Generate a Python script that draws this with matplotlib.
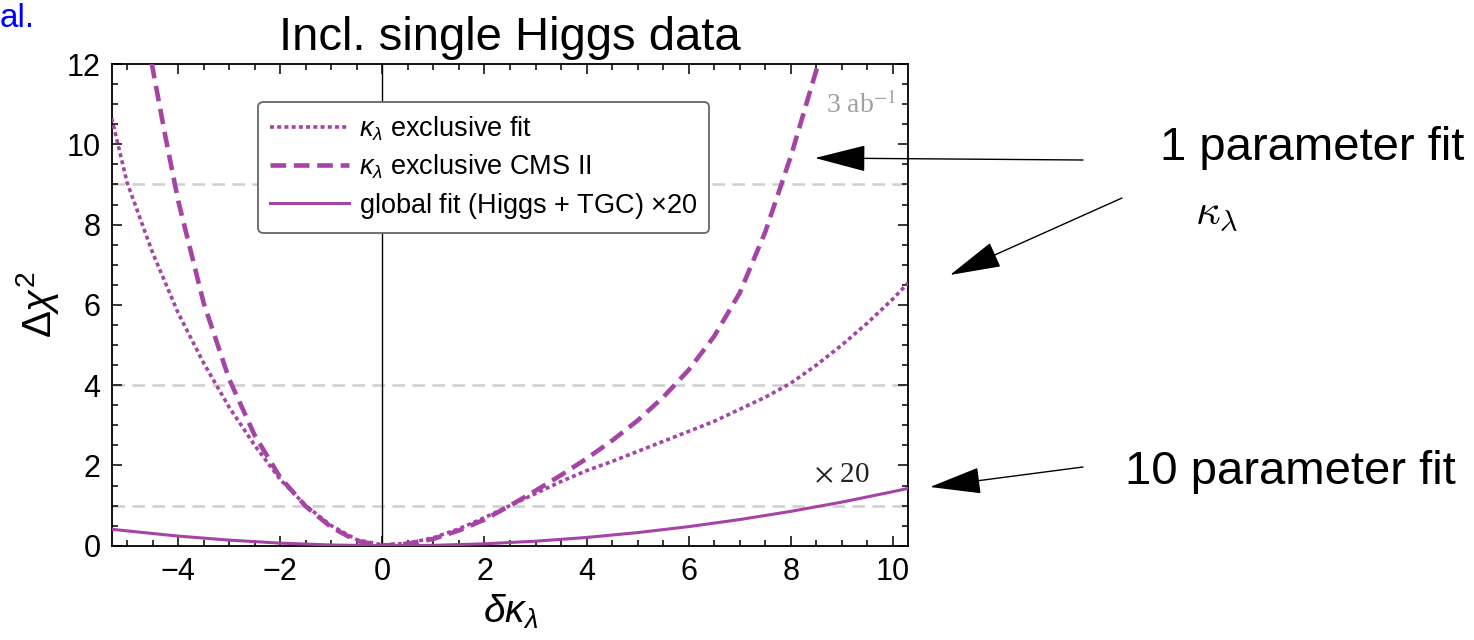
import matplotlib
matplotlib.use("Agg")
import matplotlib.pyplot as plt
from matplotlib.patches import FancyArrowPatch
from matplotlib.ticker import MultipleLocator

# --- chi-square scans in delta kappa_lambda ---
excl_x = [-5.3, -5.0, -4.5, -4.0, -3.5, -3.0, -2.5, -2.0, -1.5, -1.0, -0.5, 0.0,
          0.5, 1.0, 1.5, 2.0, 2.5, 3.0, 3.5, 4.0, 4.5, 5.0, 5.5, 6.0, 6.5, 7.0,
          7.5, 8.0, 8.5, 9.0, 9.5, 10.0, 10.3]
excl_fit = [10.65, 9.05, 7.3, 5.8, 4.55, 3.45, 2.5, 1.65, 1.0, 0.5, 0.15, 0.02,
            0.06, 0.2, 0.42, 0.7, 1.0, 1.3, 1.6, 1.87, 2.1, 2.35, 2.6, 2.85, 3.1, 3.4,
            3.7, 4.05, 4.5, 5.0, 5.55, 6.15, 6.55]

cms_x = [-4.6, -4.5, -4.25, -4.0, -3.5, -3.0, -2.5, -2.0, -1.5, -1.0, -0.5, 0.0,
         0.5, 1.0, 1.5, 2.0, 2.5, 3.0, 3.5, 4.0, 4.5, 5.0, 5.5, 6.0, 6.5, 7.0,
         7.5, 8.0, 8.5, 8.7]
cms_excl = [12.6, 11.9, 10.2, 8.6, 6.05, 4.15, 2.75, 1.7, 0.98, 0.46, 0.12, 0.0,
            0.05, 0.17, 0.38, 0.65, 1.0, 1.37, 1.76, 2.17, 2.62, 3.12, 3.7, 4.38, 5.22, 6.3,
            7.82, 9.7, 11.85, 12.8]

glob_x = [-5.3, -5.0, -4.0, -3.0, -2.0, -1.0, 0.0, 1.0, 2.0, 3.0, 4.0, 5.0, 6.0,
          7.0, 8.0, 9.0, 10.0, 10.3]
glob_x20 = [0.41, 0.37, 0.24, 0.14, 0.065, 0.018, 0.0, 0.01, 0.048, 0.113, 0.206,
            0.327, 0.476, 0.652, 0.856, 1.087, 1.347, 1.43]

ref_levels = [1, 4, 9]

labels = [r"$\kappa_\lambda$ exclusive fit",
          r"$\kappa_\lambda$ exclusive CMS II",
          r"global fit (Higgs + TGC) $\times$20"]

purple = "#A544A5"

plt.rcParams["font.family"] = ["Liberation Sans", "DejaVu Sans"]
plt.rcParams["mathtext.fontset"] = "custom"
plt.rcParams["mathtext.rm"] = "Liberation Sans"
plt.rcParams["mathtext.it"] = "Liberation Sans:italic"
plt.rcParams["mathtext.bf"] = "Liberation Sans:bold"

fig = plt.figure(figsize=(14.74, 6.40), dpi=100)
ax = fig.add_axes([0.0758, 0.1473, 0.5404, 0.7527])

for lv in ref_levels:
    ax.axhline(lv, color="#cfcfcf", lw=1.8, ls=(0, (5, 3)), zorder=1)
ax.axvline(0, color="black", lw=1.0, zorder=2)

ax.plot(excl_x, excl_fit, color=purple, lw=2.6, ls=(0, (1.1, 0.9)),
        label=labels[0], zorder=3)
ax.plot(cms_x, cms_excl, color=purple, lw=3.3, ls=(0, (3.4, 1.7)),
        label=labels[1], zorder=3)
ax.plot(glob_x, glob_x20, color=purple, lw=2.2, ls="-",
        label=labels[2], zorder=3)

ax.set_xlim(-5.3, 10.3)
ax.set_ylim(0, 12)
ax.xaxis.set_major_locator(MultipleLocator(2))
ax.xaxis.set_minor_locator(MultipleLocator(0.5))
ax.yaxis.set_major_locator(MultipleLocator(2))
ax.yaxis.set_minor_locator(MultipleLocator(0.5))
ax.tick_params(which="both", direction="in", top=True, right=True,
               labelsize=22, width=1.1)
ax.tick_params(which="major", length=7, pad=8)
ax.tick_params(which="minor", length=4.5)
for s in ax.spines.values():
    s.set_linewidth(1.3)

ax.set_xlabel(r"$\delta\kappa_\lambda$", fontsize=28, labelpad=4)
ax.set_ylabel(r"$\Delta\chi^2$", fontsize=29, labelpad=4)
ax.set_title("Incl. single Higgs data", fontsize=34, pad=10)

leg = ax.legend(loc="upper left", bbox_to_anchor=(0.184, 0.921),
                borderaxespad=0, fontsize=19.5, handlelength=2.9,
                labelspacing=0.36, frameon=True, fancybox=True,
                edgecolor="#666666", framealpha=1, borderpad=0.45,
                handletextpad=0.35)
leg.get_frame().set_linewidth(1.3)

ax.text(0.985, 0.915, r"3 ab$^{-1}$", transform=ax.transAxes, ha="right",
        va="center", fontsize=20, color="#a0a0a0", family="Liberation Serif",
        math_fontfamily="stix")
ax.text(0.952, 0.147, r"$\times$ 20", transform=ax.transAxes, ha="right",
        va="center", fontsize=21, color="#222222", family="Liberation Serif",
        math_fontfamily="stix")

# annotations at the right of the panel
W, H = 1474.0, 640.0


def fx(px):
    return px / W


def fy(py):
    return 1 - py / H


fig.text(0.0, fy(27), "al.", ha="left", va="baseline",
         fontsize=24, color="#0000ff")

fig.text(fx(1160), fy(148), "1 parameter fit", ha="left", va="center",
         fontsize=34)
fig.text(fx(1125), fy(472), "10 parameter fit", ha="left", va="center",
         fontsize=34)
fig.text(fx(1195), fy(213), r"$\kappa_\lambda$", ha="left", va="center",
         fontsize=31, math_fontfamily="cm")

arrow_kw = dict(arrowstyle="-|>,head_length=3.3,head_width=0.85",
                color="black", lw=1.0, mutation_scale=10,
                shrinkA=0, shrinkB=0)
for tail, tip in [((1083, 160), (815, 158)),
                  ((1122, 198), (950, 275)),
                  ((1083, 467), (930, 487))]:
    fig.add_artist(FancyArrowPatch(
        (fx(tail[0]), fy(tail[1])), (fx(tip[0]), fy(tip[1])),
        transform=fig.transFigure, **arrow_kw))

fig.savefig("out.png", dpi=100)
